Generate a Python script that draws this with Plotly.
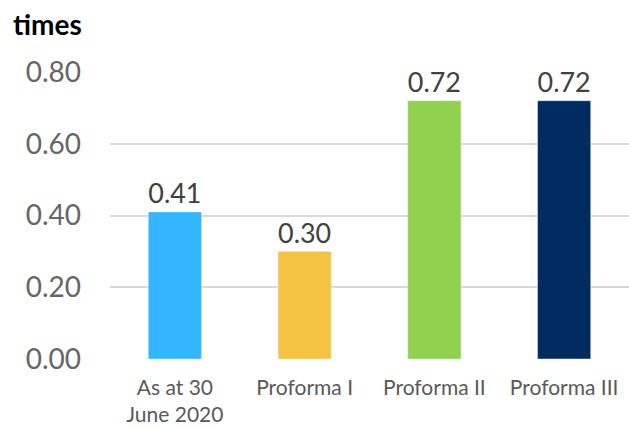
import plotly.graph_objects as go

categories = ["As at 30<br>June 2020", "Proforma I", "Proforma II", "Proforma III"]
values = [0.41, 0.30, 0.72, 0.72]
labels = ["0.41", "0.30", "0.72", "0.72"]
colors = ["#33B6FF", "#F5C342", "#92D050", "#002C62"]
tickvals = [0.0, 0.2, 0.4, 0.6, 0.8]
ticktext = ["0.00", "0.20", "0.40", "0.60", "0.80"]

font = "Lato, Open Sans, sans-serif"

fig = go.Figure(go.Bar(
    x=categories, y=values, marker_color=colors, width=0.41,
    text=labels, textposition="outside", cliponaxis=False,
    textfont=dict(family=font, size=28, color="#404040"),
))
fig.update_layout(
    width=629, height=428,
    margin=dict(l=110, r=0, t=72, b=69),
    plot_bgcolor="white", paper_bgcolor="white",
    showlegend=False,
    annotations=[dict(text="<b>times</b>", xref="paper", yref="paper",
                      x=-0.19, y=1.1, xanchor="left", yanchor="bottom",
                      showarrow=False, font=dict(family=font, size=28, color="black"))],
)
fig.update_xaxes(tickfont=dict(family=font, size=21, color="#595959"),
                 showline=False, ticks="", ticklabelstandoff=14)
fig.update_yaxes(range=[0, 0.8], tickvals=tickvals, ticktext=ticktext,
                 tickfont=dict(family=font, size=28, color="#666666"),
                 gridcolor="#D9D9D9", gridwidth=1.5, zeroline=False,
                 ticklabelstandoff=28)
fig.write_html("out.html")
